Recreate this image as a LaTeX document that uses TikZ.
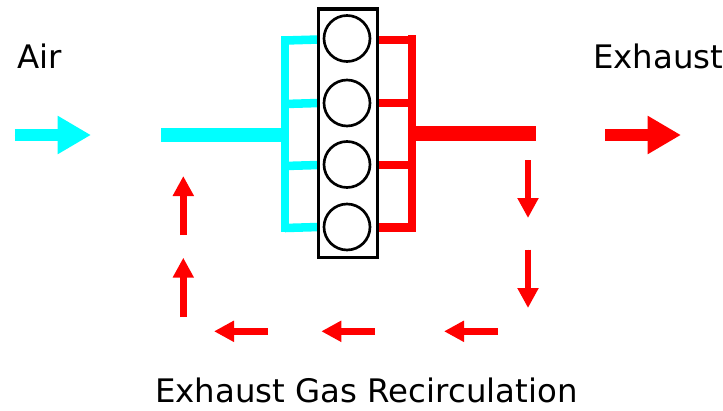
\documentclass[tikz,border=0pt]{standalone}
\usepackage{fontspec}
\setmainfont{DejaVu Sans}
\usetikzlibrary{arrows.meta}
\tikzset{
  flowsmall/.style={draw=red,line width=4.9pt,-{Triangle[length=15pt,width=15pt]}},
  flowbig/.style={line width=9.5pt,-{Triangle[length=25pt,width=27pt]}},
  cyanpipe/.style={draw=cyan,line width=6.4pt},
  redpipe/.style={draw=red,line width=6.4pt},
  label/.style={inner sep=0pt,anchor=base west,font=\fontsize{24.3}{28}\selectfont},
  cyl/.style={circle,draw=black,line width=2pt,minimum size=34.5pt,inner sep=0pt},
}
\definecolor{cyan}{HTML}{00FFFF}
\definecolor{red}{HTML}{FF0000}
\begin{document}
\begin{tikzpicture}[x=.75pt,y=-.75pt]
\useasboundingbox (0,0) rectangle (723,410);
% junctions
\coordinate (ct) at (285,36);
\coordinate (cb) at (285,232);
\coordinate (c1a) at (285,40.5); \coordinate (c1b) at (319,39.5);
\coordinate (c2a) at (285,104);  \coordinate (c2b) at (319,103);
\coordinate (c3a) at (285,166);  \coordinate (c3b) at (319,165);
\coordinate (c4a) at (285,228);  \coordinate (c4b) at (319,227);
\coordinate (cin) at (161,135);  \coordinate (cj) at (285,135);
\coordinate (rt) at (412,35.5);
\coordinate (rb) at (412,232);
\coordinate (r1a) at (378,40);   \coordinate (r1b) at (412,40);
\coordinate (r2a) at (378,103);  \coordinate (r2b) at (412,103);
\coordinate (r3a) at (378,165);  \coordinate (r3b) at (412,165);
\coordinate (r4a) at (378,227.5);\coordinate (r4b) at (412,227.5);
\coordinate (rj) at (412,133.5); \coordinate (rout) at (536,133.5);
% pipes
\draw[cyanpipe] (ct) -- (cb);
\draw[cyanpipe] (c1a) -- (c1b);
\draw[cyanpipe] (c2a) -- (c2b);
\draw[cyanpipe] (c3a) -- (c3b);
\draw[cyanpipe] (c4a) -- (c4b);
\draw[draw=cyan,line width=10.5pt] (cin) -- (cj);
\draw[redpipe] (rt) -- (rb);
\draw[redpipe] (r1a) -- (r1b);
\draw[redpipe] (r2a) -- (r2b);
\draw[redpipe] (r3a) -- (r3b);
\draw[redpipe] (r4a) -- (r4b);
\draw[draw=red,line width=11pt] (rj) -- (rout);
% engine
\node[draw=black,line width=2.5pt,fill=white,minimum width=44.3pt,minimum height=186.5pt,inner sep=0pt] (engine) at (348.2,133.3) {};
\node[cyl] (cyl1) at (347,38.5) {};
\node[cyl] (cyl2) at (347,103) {};
\node[cyl] (cyl3) at (347,164.5) {};
\node[cyl] (cyl4) at (347,227) {};
% flow arrows
\coordinate (airA) at (14.7,135);  \coordinate (airB) at (91,135);
\coordinate (exA) at (605,135);    \coordinate (exB) at (681,135);
\draw[flowbig,draw=cyan,fill=cyan,color=cyan] (airA) -- (airB);
\draw[flowbig,draw=red,fill=red,color=red] (exA) -- (exB);
\coordinate (d1a) at (528,160);    \coordinate (d1b) at (528,218);
\coordinate (d2a) at (528,249.5);  \coordinate (d2b) at (528,308);
\coordinate (l1a) at (498,331.3);  \coordinate (l1b) at (444,331.3);
\coordinate (l2a) at (375,331.3);  \coordinate (l2b) at (321.3,331.3);
\coordinate (l3a) at (268,331.3);  \coordinate (l3b) at (214,331.3);
\coordinate (u1a) at (183.3,317);  \coordinate (u1b) at (183.3,257.7);
\coordinate (u2a) at (183.3,235);  \coordinate (u2b) at (183.3,176);
\foreach \s/\e in {d1a/d1b,d2a/d2b,l1a/l1b,l2a/l2b,l3a/l3b,u1a/u1b,u2a/u2b}
  \draw[flowsmall,fill=red,color=red] (\s) -- (\e);
% labels
\node[label] (air) at (17,69) {Air};
\node[label] (exhaust) at (593,69) {Exhaust};
\node[label] (egr) at (155,402) {Exhaust Gas Recirculation};
\end{tikzpicture}
\end{document}
